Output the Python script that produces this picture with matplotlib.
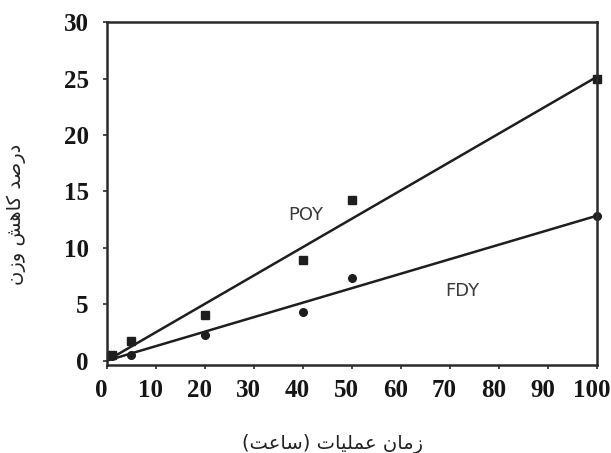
import numpy as np
import matplotlib.pyplot as plt
from matplotlib.transforms import ScaledTranslation

# اندازه‌گیری‌ها: درصد کاهش وزن در برابر زمان عملیات
poy_time = [1, 5, 20, 40, 50, 100]
poy_loss = [0.5, 1.7, 4.0, 8.9, 14.2, 25.0]
fdy_time = [1, 5, 20, 40, 50, 100]
fdy_loss = [0.4, 0.5, 2.3, 4.3, 7.3, 12.8]

xticks = [0, 10, 20, 30, 40, 50, 60, 70, 80, 90, 100]
yticks = [0, 5, 10, 15, 20, 25, 30]

xlabel_fa = "زمان عملیات (ساعت)"
ylabel_fa = "درصد کاهش وزن"

# --- شکل‌دهی ساده حروف فارسی (matplotlib خودش اتصال حروف را انجام نمی‌دهد) ---
# (isolated, final, initial, medial)
FORMS = {
    'ا': ('\uFE8D', '\uFE8E', None, None),
    'ت': ('\uFE95', '\uFE96', '\uFE97', '\uFE98'),
    'د': ('\uFEA9', '\uFEAA', None, None),
    'ر': ('\uFEAD', '\uFEAE', None, None),
    'ز': ('\uFEAF', '\uFEB0', None, None),
    'س': ('\uFEB1', '\uFEB2', '\uFEB3', '\uFEB4'),
    'ش': ('\uFEB5', '\uFEB6', '\uFEB7', '\uFEB8'),
    'ص': ('\uFEB9', '\uFEBA', '\uFEBB', '\uFEBC'),
    'ع': ('\uFEC9', '\uFECA', '\uFECB', '\uFECC'),
    'ل': ('\uFEDD', '\uFEDE', '\uFEDF', '\uFEE0'),
    'م': ('\uFEE1', '\uFEE2', '\uFEE3', '\uFEE4'),
    'ن': ('\uFEE5', '\uFEE6', '\uFEE7', '\uFEE8'),
    'ه': ('\uFEE9', '\uFEEA', '\uFEEB', '\uFEEC'),
    'و': ('\uFEED', '\uFEEE', None, None),
    'ی': ('\uFBFC', '\uFBFD', '\uFBFE', '\uFBFF'),
    'ک': ('\uFB8E', '\uFB8F', '\uFB90', '\uFB91'),
}


def shape_fa(text):
    out = []
    for i, ch in enumerate(text):
        if ch not in FORMS:
            out.append(ch)
            continue
        prev = text[i - 1] if i > 0 else ''
        nxt = text[i + 1] if i + 1 < len(text) else ''
        joins_prev = prev in FORMS and FORMS[prev][2] is not None
        joins_next = FORMS[ch][2] is not None and nxt in FORMS
        iso, fin, ini, med = FORMS[ch]
        if joins_prev and joins_next:
            out.append(med)
        elif joins_prev:
            out.append(fin)
        elif joins_next:
            out.append(ini)
        else:
            out.append(iso)
    vis = ''.join(reversed(out))
    return vis.translate(str.maketrans('()', ')('))


# خطوط برازش از مبدأ (کمترین مربعات)
def origin_slope(x, y):
    x = np.asarray(x, float)
    y = np.asarray(y, float)
    return (x * y).sum() / (x * x).sum()


fit_x = np.array([0, 100])
poy_fit = origin_slope(poy_time, poy_loss) * fit_x
fdy_fit = origin_slope(fdy_time, fdy_loss) * fit_x

fig = plt.figure(figsize=(6.11, 4.53), dpi=100)
ax = fig.add_axes([0.175, 0.194, 0.802, 0.757])

ink = '#1e1e1e'
ax.plot(fit_x, poy_fit, color=ink, lw=1.8)
ax.plot(fit_x, fdy_fit, color=ink, lw=1.8)
ax.plot(poy_time, poy_loss, 's', color=ink, ms=5.5, clip_on=False)
ax.plot(fdy_time, fdy_loss, 'o', color=ink, ms=5.5, clip_on=False)

ax.text(40.5, 12.9, 'POY', fontsize=13, color='#3a3a3a',
        ha='center', va='center', family='DejaVu Sans')
ax.text(72.5, 6.2, 'FDY', fontsize=13, color='#3a3a3a',
        ha='center', va='center', family='DejaVu Sans')

ax.set_xlim(0, 100)
ax.set_ylim(-0.4, 30)
ax.set_xticks(xticks)
ax.set_yticks(yticks)

for sp in ax.spines.values():
    sp.set_linewidth(1.8)
    sp.set_color('#2a2a2a')

ax.tick_params(direction='out', length=3, width=1.2, color='#2a2a2a')
ax.tick_params(axis='x', pad=7)
ax.tick_params(axis='y', pad=10)
for lab in ax.get_xticklabels() + ax.get_yticklabels():
    lab.set_fontfamily('Liberation Serif')
    lab.set_fontweight('bold')
    lab.set_fontsize(18)
    lab.set_color('#151515')

# برچسب‌های محور افقی کمی به چپ
shift = ScaledTranslation(-4 / 72, 0, fig.dpi_scale_trans)
for lab in ax.get_xticklabels():
    lab.set_transform(lab.get_transform() + shift)

ax.set_xlabel(shape_fa(xlabel_fa), fontsize=14, family='DejaVu Sans', color='#222222')
ax.set_ylabel(shape_fa(ylabel_fa), fontsize=14, family='DejaVu Sans', color='#222222')
ax.xaxis.set_label_coords(0.46, -0.2)
ax.yaxis.set_label_coords(-0.165, 0.44)

fig.savefig('out.png', dpi=100)
